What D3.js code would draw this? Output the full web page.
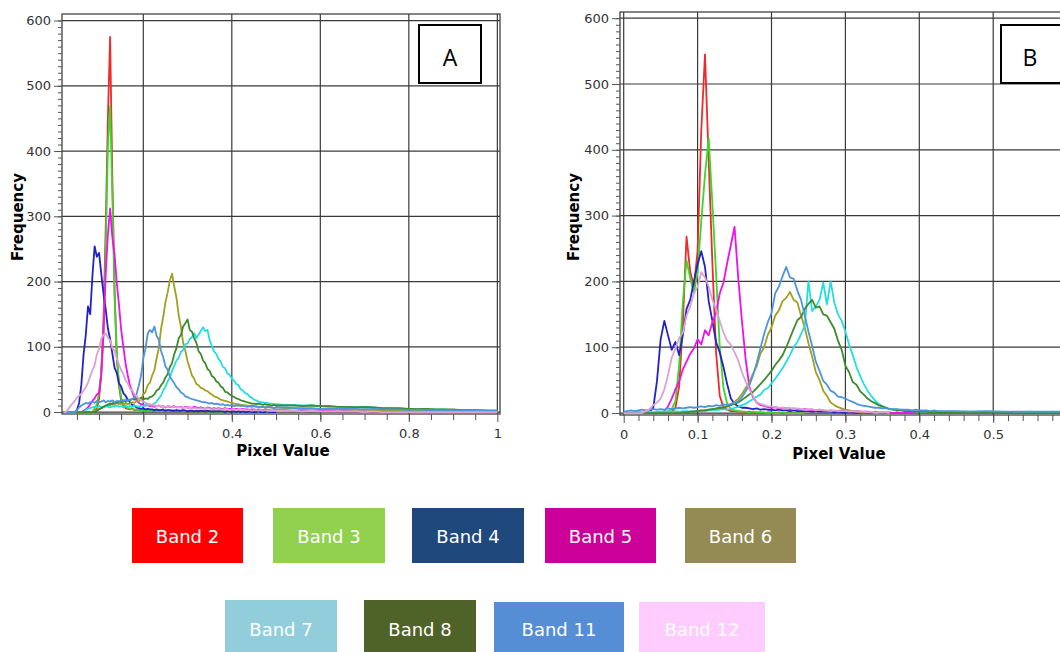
<!DOCTYPE html>
<html>
<head>
<meta charset="utf-8">
<script src="https://cdn.jsdelivr.net/npm/d3@7"></script>
<style>
  body { margin: 0; background: #fff; }
  svg { display: block; }
</style>
</head>
<body>
<svg id="chart" width="1060" height="652"></svg>
<script>
// ---- bands ----
const bandNames = ["Band 2", "Band 3", "Band 4", "Band 5", "Band 6", "Band 7", "Band 8", "Band 11", "Band 12"];
const lineColors = ["#ee2b2b", "#3ad82a", "#2222c8", "#ee11ee", "#a3a021", "#22dede", "#3e8a2e", "#4f95dc", "#dca2d2"];
const legendColors = ["#ff0000", "#92d050", "#1f497d", "#cc0099", "#948a54", "#92cddc", "#4f6228", "#558ed5", "#ffccff"];

// ---- panel A: frequency per pixel value, 0.020..0.500 every 0.005, tail 0.52..1.00 every 0.02 ----
const a2 = [0,0,0,0,0,0,0,0,0,0, 0,0,0,0,2,5,20,60,140,280, 450,575,360,190,85,40,18,10,6,5,
  4,5,3,4,3,2,3,2,2,3, 2,2,3,2,2,1,2,2,1,2, 2,1,2,1,1,2,1,1,2,1, 1,1,1,2,1,1,1,1,1,1,
  1,1,0,1,1,0,1,1,0,1, 1,0,1,0,1,0,0,1,0,0, 0,1,0,0,0,0,0];
const a3 = [0,0,0,0,0,0,0,0,0,0, 0,0,0,0,5,12,30,62,118,245, 405,470,335,178,92,46,22,13,8,6,
  5,4,4,3,3,2,2,3,2,2, 2,3,2,2,1,2,2,1,2,1, 1,2,1,1,1,1,2,1,1,1, 1,1,1,0,1,1,0,1,1,0,
  1,0,1,0,0,1,0,0,1,0, 0,0,1,0,0,0,1,0,0,0, 0,0,0,1,0,0,0];
const a4 = [0,0,0,0,0,0,3,14,42,88, 118,162,150,208,254,238,244,212,182,158, 128,112,90,68,60,44,39,29,25,19,
  15,11,10,7,6,5,6,4,5,4, 4,3,4,3,3,4,2,3,3,2, 2,3,2,2,3,2,1,2,2,1, 2,1,2,1,1,2,1,1,1,1,
  1,1,1,0,1,1,0,1,0,1, 0,1,0,0,1,0,0,0,1,0, 0,0,1,0,0,0,0];
const a5 = [0,0,0,0,0,0,0,0,0,2, 4,7,12,17,21,27,29,56,118,212, 272,312,268,242,198,165,126,100,74,56,
  40,31,22,18,14,12,11,10,11,9, 10,8,9,10,8,9,7,9,8,8, 9,7,8,8,6,8,7,7,6,8, 7,6,7,6,5,7,6,5,6,5,
  6,5,5,6,4,5,5,4,5,4, 4,5,4,4,3,4,4,3,4,3, 3,4,3,3,2,3,3];
const a6 = [0,0,0,0,0,0,0,0,0,0, 0,0,0,0,2,3,5,6,8,9, 12,10,14,11,15,12,13,11,14,12,
  13,15,14,17,16,20,27,31,41,45, 56,64,82,98,127,146,168,183,202,212, 192,175,148,131,106,94,78,67,56,51,
  43,41,37,36,33,32,29,27,24,23, 21,19,18,17,16,15,14,13,12,12, 11,11,10,10,9,10,9,9,8,8, 8,7,8,7,7,6,7];
const a7 = [0,0,0,0,0,0,0,0,0,0, 3,5,6,7,8,7,9,8,7,9, 8,7,9,8,10,8,9,7,10,8,
  9,8,10,9,8,10,9,11,10,11, 11,13,16,21,25,33,39,47,53,63, 71,79,83,92,95,104,105,112,115,121,
  113,119,124,130,124,126,110,101,93,89, 81,77,69,67,59,57,51,48,43,41, 35,33,29,28,24,22,19,18,16,15, 15,14,14,13,13,12,12];
const a8 = [0,0,0,0,0,0,0,0,0,0, 0,0,0,0,0,2,4,6,8,10, 11,13,12,15,14,16,15,18,16,19,
  18,20,19,21,20,22,19,21,20,23, 24,27,33,35,41,45,53,58,69,75, 89,98,113,118,131,136,142,126,123,113,
  106,93,89,79,75,66,63,55,53,47, 45,39,37,31,30,27,25,23,21,20, 18,17,16,15,14,13,13,12,13,12, 11,12,11,11,10,11,10];
const a11 = [0,0,0,0,0,0,3,7,10,12, 14,13,15,16,14,17,15,16,18,15, 17,16,18,15,17,16,18,17,19,17,
  19,20,22,28,41,56,82,98,120,126, 122,131,117,111,94,84,70,65,54,49, 44,38,35,30,28,24,23,21,20,19,
  18,17,16,15,15,14,13,14,12,13, 12,11,12,10,11,10,11,9,10,10, 9,10,9,8,9,8,9,8,8,7, 8,7,7,8,7,6,7];
const a12 = [0,0,4,9,13,17,22,25,28,33, 38,45,55,64,72,88,97,112,118,121, 114,110,98,94,82,73,64,58,48,44,
  36,33,27,25,20,18,16,14,13,12, 11,10,9,10,8,9,8,8,9,7, 8,7,8,7,6,7,6,7,6,6,
  6,5,6,5,5,6,5,4,5,4, 5,4,4,5,4,3,4,4,3,4, 3,4,3,3,3,2,3,3,2,3, 2,3,2,2,2,2,2];

const a5Tail = [3,2,3,2,2,2,1,2,1,1,1,1,1,0,1,0,0,0,0,0,0,0,0,0,0];
const a6Tail = [6,6,5,5,5,4,4,4,3,4,3,3,3,2,3,2,2,2,2,1,2,1,1,1,1];
const a7Tail = [11,11,10,10,9,9,8,8,8,7,7,6,6,5,5,5,4,4,4,3,3,3,2,2,2];
const a8Tail = [10,10,9,10,9,9,8,8,7,8,7,6,6,6,5,5,5,4,4,4,3,3,3,2,2];
const a11Tail = [7,6,6,6,5,6,5,5,5,4,5,4,4,4,3,4,3,3,3,3,2,3,2,2,2];
const a12Tail = [2,2,1,2,1,1,1,1,1,0,1,0,0,0,0,0,0,0,0,0,0,0,0,0,0];

// ---- panel B: 0.000..0.450 every 0.005, tail 0.47..0.63 every 0.02 ----
const b2 = [0,0,0,0,0,0,0,0,0,0, 0,0,0,2,8,40,135,268,215,192, 246,430,545,385,228,92,26,9,5,3,
  3,2,2,1,2,1,1,1,0,1, 1,0,1,0,0,1,0,0,0,0];
const b3 = [0,0,0,0,0,0,0,0,0,0, 0,0,2,6,18,72,168,232,205,182, 214,292,362,418,318,212,100,38,14,6,
  4,3,2,2,1,2,1,1,1,0, 1,0,0,1,0,0,0,0,0,0];
const b4 = [0,0,0,0,0,0,0,2,8,48, 112,140,118,96,108,88,118,158,172,200, 226,246,222,170,140,108,92,70,44,22,
  14,10,8,8,7,6,7,5,6,5, 5,4,5,4,4,3,4,3,3,3, 3,2,3,2,2,2,2,1,2,1, 1,1,1,0,1,1,0,1,0,0];
const b5 = [0,0,0,0,0,0,0,0,0,0, 0,3,10,22,36,48,66,78,90,98, 112,104,126,118,138,152,182,198,228,255,
  283,205,140,82,40,24,16,12,11,9, 8,9,7,8,7,6,7,6,5,6, 5,5,4,5,4,3,4,3,3,4,
  3,3,2,3,2,2,2,1,2,1, 1,1,1,0,1,0,0,1,0,0];
const b6 = [0,0,0,0,0,0,0,0,0,0, 0,0,0,0,0,0,1,1,2,2, 3,3,4,5,5,6,7,9,10,13,
  17,22,29,38,47,60,71,90,100,119, 130,148,156,170,175,184,172,168,148,130, 106,86,62,50,34,26,16,12,9,7,
  5,4,3,2,2,1,1,1,0,0];
const b7 = [0,0,1,1,2,1,2,2,1,2, 2,2,3,2,3,2,3,3,2,3, 3,4,3,4,5,4,5,6,5,6,
  8,9,12,14,18,21,25,28,35,38, 45,52,60,68,78,88,100,108,120,132, 200,155,162,172,198,165,200,168,150,140,
  124,104,88,70,56,44,34,26,19,14, 10,8,6,5,5,4,4,3,3,3, 3,2,3,2,2,2,2,2,2,2, 2];
const b8 = [0,0,0,0,0,0,0,0,0,0, 0,0,0,0,0,0,1,1,2,2, 3,4,4,5,6,7,8,8,10,12,
  14,16,20,24,28,32,38,44,50,57, 64,73,80,88,100,114,128,141,146,158, 166,172,160,162,150,148,138,128,110,96,
  72,62,47,43,33,28,22,18,15,12, 10,8,6,5,4,4,3,3,3,2, 2,2,2,1,2,1,1,1,1,1, 1];
const b11 = [2,3,4,3,4,5,4,5,6,5, 6,5,7,6,7,8,7,8,9,8, 9,10,9,11,10,12,11,13,12,14,
  15,18,24,33,42,57,76,98,120,138, 152,182,192,208,222,206,204,186,172,148, 124,102,78,64,49,43,34,31,25,24,
  22,19,17,14,12,11,10,9,8,8, 7,7,6,6,6,5,5,5,4,5, 4,4,4,3,4,3,3,3,3,3, 3];
const b12 = [0,0,0,0,0,0,3,6,12,16, 22,36,58,84,98,114,122,148,162,182, 192,214,206,192,172,158,140,122,110,104,
  92,80,62,48,36,26,16,14,12,10, 10,9,8,8,7,8,6,7,6,5, 5,6,4,5,4,4,3,4,3,3,
  3,2,3,2,2,2,1,2,1,1, 1,1,0];

const b7Tail = [2,2,2,1,2,1,1,1,1];
const b8Tail = [1,1,1,0,0,0,0,0,0];
const b11Tail = [2,3,2,2,2,2,2,1,2];

const gridA = d3.range(97).map(i => 0.02 + i * 0.005);
const tailGridA = d3.range(25).map(i => 0.52 + i * 0.02);
const gridB = d3.range(91).map(i => i * 0.005);
const tailGridB = d3.range(9).map(i => 0.47 + i * 0.02);

const yTicks = [0, 100, 200, 300, 400, 500, 600];

const svg = d3.select("#chart");
const font = "'DejaVu Sans', Verdana, sans-serif";

function drawPanel(p) {
    const x = d3.scaleLinear().domain(p.xDomain).range([p.left, p.right]);
    const y = d3.scaleLinear().domain(p.yDomain).range([p.bottom, p.top]);
    const g = svg.append("g");

    svg.append("clipPath").attr("id", "clip" + p.id)
        .append("rect")
        .attr("x", p.left).attr("y", p.top)
        .attr("width", p.right - p.left).attr("height", p.bottom - p.top);

    // grid
    g.append("g").selectAll("line").data(p.xGrid).join("line")
        .attr("x1", d => x(d)).attr("x2", d => x(d))
        .attr("y1", p.top).attr("y2", p.bottom)
        .attr("stroke", "#3a3a3a").attr("stroke-width", 1.2);
    g.append("g").selectAll("line").data(yTicks).join("line")
        .attr("x1", p.left).attr("x2", p.right)
        .attr("y1", d => y(d)).attr("y2", d => y(d))
        .attr("stroke", "#3a3a3a").attr("stroke-width", 1.2);

    // histogram lines
    const line = d3.line().x(d => x(d[0])).y(d => y(d[1]));
    const lines = g.append("g").attr("clip-path", `url(#clip${p.id})`);
    p.series.forEach((vals, i) => {
        const pts = vals.map((v, j) => [p.grid[j], v]);
        const tail = p.tails[i] || [];
        tail.forEach((v, j) => pts.push([p.tailGrid[j], v]));
        lines.append("path")
            .datum(pts)
            .attr("d", line)
            .attr("fill", "none")
            .attr("stroke", lineColors[i])
            .attr("stroke-width", 1.8)
            .attr("stroke-linejoin", "round");
    });

    // frame
    g.append("rect")
        .attr("x", p.left).attr("y", p.top)
        .attr("width", p.right - p.left).attr("height", p.bottom - p.top)
        .attr("fill", "none").attr("stroke", "#444").attr("stroke-width", 1.3);

    // axes
    const yAxis = g.append("g").attr("transform", `translate(${p.left},0)`)
        .call(d3.axisLeft(y).tickValues(yTicks).tickSize(8).tickPadding(3));
    g.append("g").attr("transform", `translate(${p.left},0)`)
        .call(d3.axisLeft(y).tickValues(d3.range(0, 601, 10)).tickSize(4).tickFormat(""));
    const xAxis = g.append("g").attr("transform", `translate(0,${p.bottom})`)
        .call(d3.axisBottom(x).tickValues(p.xTicks).tickSize(8).tickPadding(7).tickFormat(d3.format("~g")));
    g.append("g").attr("transform", `translate(0,${p.bottom})`)
        .call(d3.axisBottom(x).tickValues(p.xMinor).tickSize(6).tickFormat(""));

    g.selectAll(".domain").remove();
    g.selectAll(".tick line").attr("stroke", "#555");
    [yAxis, xAxis].forEach(a => a.selectAll("text")
        .attr("fill", "#333").style("font-family", font).style("font-size", "13px"));

    // titles
    g.append("text")
        .attr("transform", `translate(${p.yTitleX},217) rotate(-90)`)
        .attr("text-anchor", "middle")
        .style("font-family", font).style("font-size", "15px").style("font-weight", "bold")
        .text("Frequency");
    g.append("text")
        .attr("x", p.xTitleX).attr("y", p.xTitleY)
        .attr("text-anchor", "middle")
        .style("font-family", font).style("font-size", "15px").style("font-weight", "bold")
        .text("Pixel Value");

    // panel letter box
    g.append("rect")
        .attr("x", p.box[0]).attr("y", 25).attr("width", p.box[1]).attr("height", 58)
        .attr("fill", "#fff").attr("stroke", "#000").attr("stroke-width", 2);
    g.append("text")
        .attr("x", p.box[2]).attr("y", 66)
        .attr("text-anchor", "middle")
        .style("font-family", "'Open Sans', 'Noto Sans', sans-serif").style("font-size", "23px")
        .text(p.id);
}

drawPanel({
    id: "A",
    left: 62, right: 500, top: 14, bottom: 414,
    xDomain: [0.0163, 1.006], yDomain: [-3, 610],
    xTicks: [0.2, 0.4, 0.6, 0.8, 1],
    xGrid: [0.2, 0.4, 0.6, 0.8, 1],
    xMinor: d3.range(0.05, 1.0, 0.05),
    grid: gridA, tailGrid: tailGridA,
    series: [a2, a3, a4, a5, a6, a7, a8, a11, a12],
    tails: [[], [], [], a5Tail, a6Tail, a7Tail, a8Tail, a11Tail, a12Tail],
    yTitleX: 23, xTitleX: 283, xTitleY: 456,
    box: [419, 62, 450]
});

drawPanel({
    id: "B",
    left: 620, right: 1075, top: 12, bottom: 415,
    xDomain: [-0.005, 0.6107], yDomain: [-3, 609.4],
    xTicks: [0, 0.1, 0.2, 0.3, 0.4, 0.5],
    xGrid: [0, 0.1, 0.2, 0.3, 0.4, 0.5, 0.6],
    xMinor: d3.range(0.02, 0.6, 0.02),
    grid: gridB, tailGrid: tailGridB,
    series: [b2, b3, b4, b5, b6, b7, b8, b11, b12],
    tails: [[], [], [], [], [], b7Tail, b8Tail, b11Tail, []],
    yTitleX: 579, xTitleX: 839, xTitleY: 459,
    box: [1001, 80, 1030]
});

// legend
const legendLayout = [
    [132, 508, 111, 55], [273, 508, 112, 55], [412, 508, 112, 55], [545, 508, 111, 55], [685, 508, 111, 55],
    [225, 600, 112, 52], [364, 600, 112, 52], [494, 602, 130, 50], [639, 602, 126, 50]
];
const legend = svg.append("g");
bandNames.forEach((name, i) => {
    const [lx, ly, lw, lh] = legendLayout[i];
    legend.append("rect")
        .attr("x", lx).attr("y", ly).attr("width", lw).attr("height", lh)
        .attr("fill", legendColors[i]);
    legend.append("text")
        .attr("x", lx + lw / 2).attr("y", i < 5 ? 543 : 636)
        .attr("text-anchor", "middle")
        .attr("fill", "#fff")
        .style("font-family", font).style("font-size", "18px")
        .text(name);
});
</script>
</body>
</html>
